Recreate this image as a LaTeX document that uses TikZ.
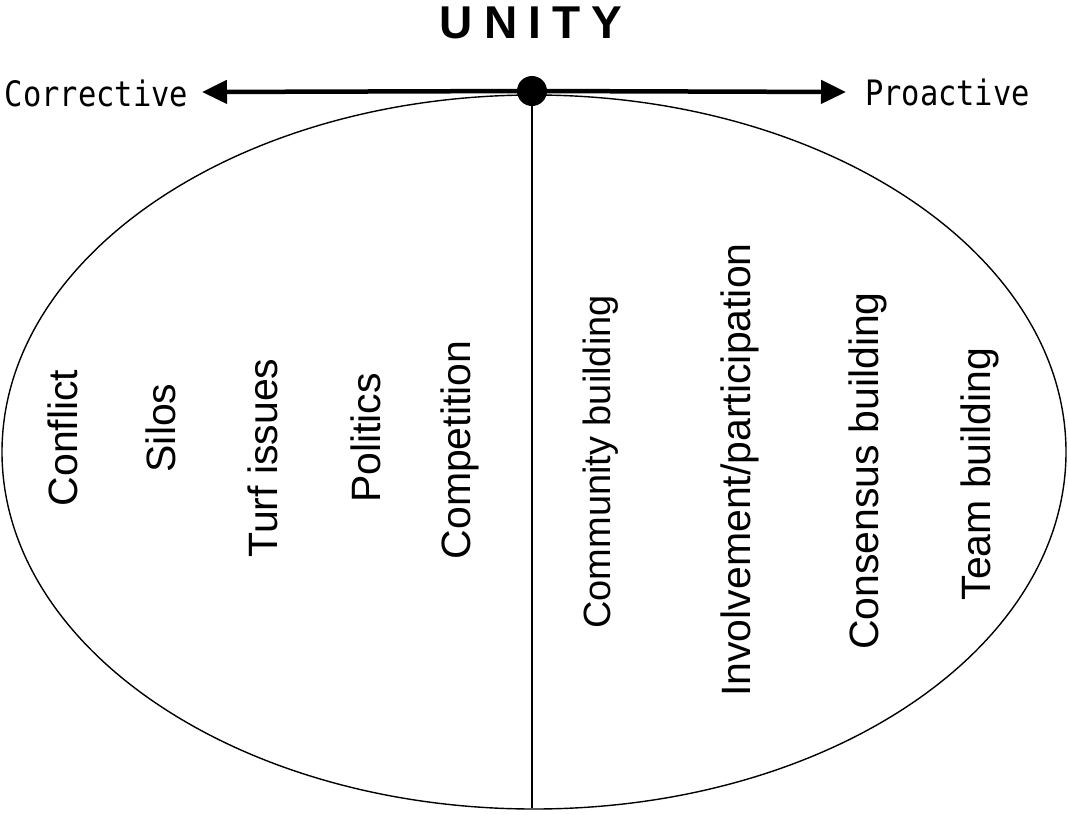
\documentclass[tikz,border=0pt]{standalone}
\usepackage{fontspec}
\setmainfont{Liberation Sans}
\newfontfamily\monofnt[FakeStretch=0.87]{DejaVu Sans Mono}
\newfontfamily\titlefnt[LetterSpace=24]{Liberation Sans}
\usetikzlibrary{arrows.meta}
\begin{document}
\begin{tikzpicture}[x=1pt,y=-1pt,
  lbl/.style={rotate=90,anchor=base,inner sep=0pt,font=\fontsize{41}{41}\selectfont},
  side/.style={anchor=base,inner sep=0pt,font=\monofnt\fontsize{35}{35}\selectfont},
  thinline/.style={line width=1.4pt},
  axis/.style={line width=4.5pt,-{Triangle[length=25pt,width=23pt]}}]
\useasboundingbox (0,0) rectangle (1068,814);
% ellipse
\draw[thinline] (534,452) ellipse [x radius=532, y radius=357];
% title
\node[inner sep=0pt,anchor=base,font=\titlefnt\bfseries\fontsize{46}{46}\selectfont] (title) at (531,38) {UNITY};
% centre dot and axis
\node[circle,fill=black,inner sep=0pt,minimum size=30pt] (c) at (532,91) {};
\coordinate (lt) at (202,92);
\coordinate (rt) at (846,92);
\coordinate (b) at (532,808);
\draw[axis] (c.center) -- (lt);
\draw[axis] (c.center) -- (rt);
\draw[thinline] (c.center) -- (b);
% side labels
\node[side] (corr) at (96.5,106) {Corrective};
\node[side] (proa) at (947.5,105) {Proactive};
% left labels
\node[lbl] (l1) at (77,438) {Conflict};
\node[lbl] (l2) at (175,428) {Silos};
\node[lbl] (l3) at (277,458) {Turf issues};
\node[lbl] (l4) at (380,438) {Politics};
\node[lbl] (l5) at (470,450) {Competition};
% right labels
\node[lbl,font=\fontsize{38}{38}\selectfont] (r1) at (610,462) {Community building};
\node[lbl] (r2) at (750,470) {Involvement/participation};
\node[lbl] (r3) at (878,471) {Consensus building};
\node[lbl] (r4) at (990,474) {Team building};
\end{tikzpicture}
\end{document}
